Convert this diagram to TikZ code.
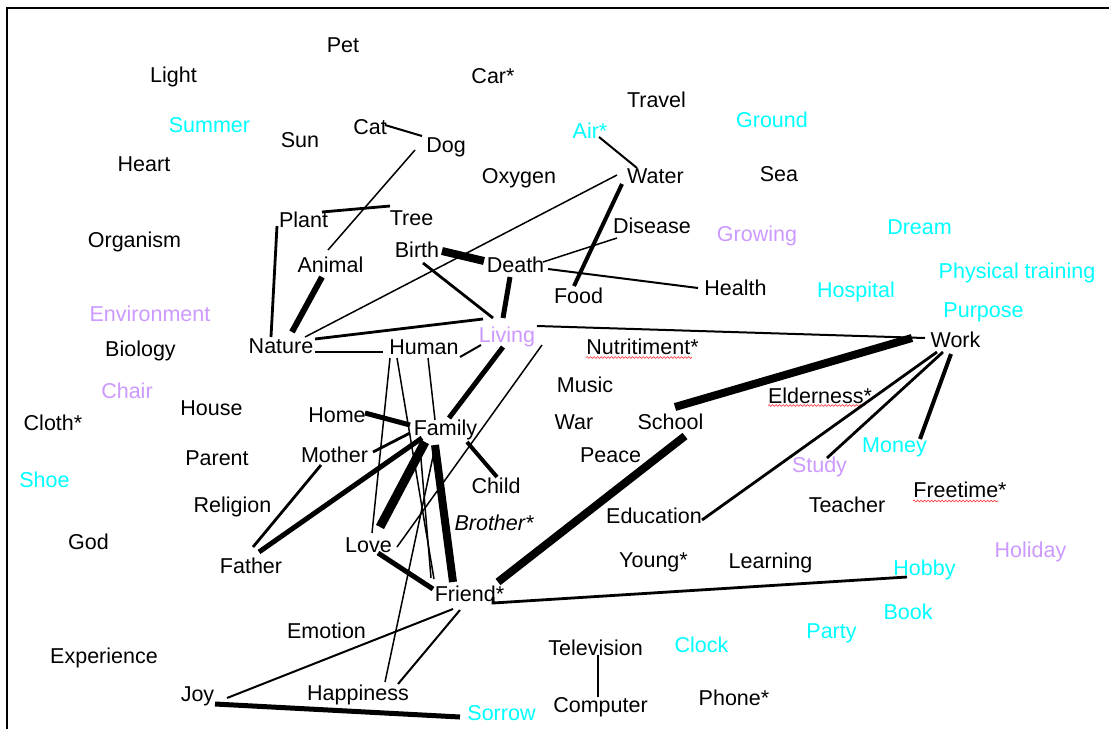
\documentclass[tikz,border=0pt]{standalone}
\usepackage{fontspec}
\setmainfont{Liberation Sans}
\usetikzlibrary{decorations.pathmorphing}
\definecolor{cyanw}{RGB}{0,255,255}
\definecolor{violw}{RGB}{204,153,255}
\tikzset{
  w/.style={anchor=base, inner sep=0pt, outer sep=0pt, font=\fontsize{21.5}{24}\selectfont},
  cw/.style={w, text=cyanw},
  vw/.style={w, text=violw},
  l1/.style={line width=1.5pt},
  l2/.style={line width=2pt},
  l3/.style={line width=2.8pt},
  l4/.style={line width=4pt},
  l5/.style={line width=5pt},
  l6/.style={line width=6pt},
  l8/.style={line width=8pt},
  l9/.style={line width=9pt},
  spell/.style={draw=red!85!white, line width=0.6pt,
    decorate, decoration={snake, segment length=3.5pt, amplitude=0.9pt}}
}
\newcommand{\at}[2]{([shift={(#1)}]#2.base)}
\begin{document}
\begin{tikzpicture}[x=1pt,y=-1pt]
\useasboundingbox (0,0) rectangle (1109,729);
\fill[white] (0,0) rectangle (1109,729);
% frame
\draw[line width=2pt] (7,729) -- (7,7.5) -- (1109,7.5);

% words
\node[w]  (pet)        at (343,52)    {Pet};
\node[w]  (light)      at (173.5,82)  {Light};
\node[w]  (car)        at (493,83)    {Car*};
\node[w]  (travel)     at (656.5,107) {Travel};
\node[cw] (summer)     at (209.5,132) {Summer};
\node[w]  (sun)        at (300,147)   {Sun};
\node[w]  (cat)        at (370,134)   {Cat};
\node[w]  (dog)        at (446,152)   {Dog};
\node[cw] (air)        at (590,138)   {Air*};
\node[cw] (ground)     at (772,127)   {Ground};
\node[w]  (heart)      at (144,171)   {Heart};
\node[w]  (oxygen)     at (519,183)   {Oxygen};
\node[w]  (water)      at (655.5,183) {Water};
\node[w]  (sea)        at (779,181)   {Sea};
\node[w]  (plant)      at (303.5,227) {Plant};
\node[w]  (tree)       at (411.5,225) {Tree};
\node[w]  (disease)    at (652,233)   {Disease};
\node[vw] (growing)    at (757,241)   {Growing};
\node[cw] (dream)      at (919.5,234) {Dream};
\node[w]  (organism)   at (134.5,247) {Organism};
\node[w]  (birth)      at (417,257)   {Birth};
\node[w]  (animal)     at (330.5,272) {Animal};
\node[w]  (death)      at (515.5,272) {Death};
\node[cw] (physical)   at (1017,278)  {Physical training};
\node[w]  (food)       at (578.5,303) {Food};
\node[w]  (health)     at (735.5,295) {Health};
\node[cw] (hospital)   at (856,297)   {Hospital};
\node[cw] (purpose)    at (983.5,317) {Purpose};
\node[vw] (environment) at (150,321)  {Environment};
\node[w]  (biology)    at (140.5,356) {Biology};
\node[w]  (nature)     at (281,353)   {Nature};
\node[w]  (human)      at (424,354)   {Human};
\node[vw] (living)     at (507,342)   {Living};
\node[w]  (nutri)      at (642.5,354) {Nutritiment*};
\node[w]  (work)       at (955.5,347) {Work};
\node[vw] (chair)      at (127,398)   {Chair};
\node[w]  (music)      at (585,392)   {Music};
\node[w]  (house)      at (211.5,415) {House};
\node[w]  (home)       at (337,422)   {Home};
\node[w]  (elder)      at (820,403)   {Elderness*};
\node[w]  (cloth)      at (53,430)    {Cloth*};
\node[w]  (family)     at (445.5,435) {Family};
\node[w]  (war)        at (574,429)   {War};
\node[w]  (school)     at (670.5,429) {School};
\node[cw] (money)      at (894.5,452) {Money};
\node[w]  (parent)     at (217,465)   {Parent};
\node[w]  (mother)     at (334.5,462) {Mother};
\node[w]  (peace)      at (610.5,462) {Peace};
\node[vw] (study)      at (819.5,472) {Study};
\node[cw] (shoe)       at (44.5,487)  {Shoe};
\node[w]  (child)      at (496,493)   {Child};
\node[w]  (freetime)   at (960,497)   {Freetime*};
\node[w]  (religion)   at (232.5,512) {Religion};
\node[w]  (teacher)    at (847,512)   {Teacher};
\node[w]  (brother)    at (494,530)   {\itshape Brother*};
\node[w]  (education)  at (654,523)   {Education};
\node[w]  (god)        at (88.5,549)  {God};
\node[w]  (love)       at (368.5,552) {Love};
\node[vw] (holiday)    at (1030.5,557) {Holiday};
\node[w]  (father)     at (251,573)   {Father};
\node[w]  (young)      at (653.5,567) {Young*};
\node[w]  (learning)   at (770.5,568) {Learning};
\node[cw] (hobby)      at (924.5,575) {Hobby};
\node[w]  (friend)     at (469.5,601) {Friend*};
\node[cw] (book)       at (908,619)   {Book};
\node[w]  (emotion)    at (326.5,638) {Emotion};
\node[cw] (party)      at (831.5,638) {Party};
\node[w]  (experience) at (104,663)   {Experience};
\node[w]  (television) at (595.5,655) {Television};
\node[cw] (clock)      at (701.5,652) {Clock};
\node[w]  (joy)        at (197.5,701) {Joy};
\node[w]  (happiness)  at (358,700)   {Happiness};
\node[w]  (phone)      at (734,705)   {Phone*};
\node[w]  (computer)   at (600.5,712) {Computer};
\node[cw] (sorrow)     at (501.5,720) {Sorrow};

% spell-check underlines
\draw[spell] \at{-56.5,3.5}{nutri} -- \at{49.5,3.5}{nutri};
\draw[spell] \at{-52,2.5}{elder} -- \at{45,2.5}{elder};
\draw[spell] \at{-47,4}{freetime} -- \at{38,4}{freetime};

% links
\draw[l2] \at{15,-9}{cat} -- \at{-24,-16}{dog};
\draw[l1] \at{-31,-2}{dog} -- \at{-2.5,-22}{animal};
\draw[l3] \at{18.5,-15}{plant} -- \at{-21.5,-19}{tree};
\draw[l3] \at{-26.5,-1}{plant} -- \at{-10,-16}{nature};
\draw[l6] \at{-8.5,5}{animal} -- \at{11,-21}{nature};
\draw[l1] \at{24,-16}{nature} -- \at{-38.5,-8}{water};
\draw[l3] \at{34,-14}{nature} -- \at{-24,-23}{living};
\draw[l3] \at{34,-1}{nature} -- \at{-41,-2}{human};
\draw[l8] \at{25,-6}{birth} -- \at{-31.5,-11}{death};
\draw[l3] \at{6,6}{birth} -- \at{-14,-24}{living};
\draw[l5] \at{-5.5,5}{death} -- \at{-4,-24}{living};
\draw[l1] \at{27.5,-10}{death} -- \at{-35,5}{disease};
\draw[l2] \at{32.5,-3}{death} -- \at{-37.5,-7}{health};
\draw[l4] \at{-33.5,1}{water} -- \at{-4.5,-17}{food};
\draw[l2] \at{9,-1}{air} -- \at{-18.5,-15}{water};
\draw[l2] \at{30,-16}{living} -- \at{-30.5,-9}{work};
\draw[l8] \at{4.5,-22}{school} -- \at{-43.5,-9}{work};
\draw[l3] \at{-18.5,5}{work} -- \at{48,-3}{education};
\draw[l3] \at{-12.5,5}{work} -- \at{7.5,-14}{study};
\draw[l4] \at{-4.5,7}{work} -- \at{25.5,-13}{money};
\draw[l2] \at{36,3}{human} -- \at{-26,3}{living};
\draw[l5] \at{-4,5}{living} -- \at{3.5,-17}{family};
\draw[l1] \at{35,3}{living} -- \at{28.5,-5}{love};
\draw[l1] \at{-34,4}{human} -- \at{3.5,-19}{love};
\draw[l1] \at{-27,4}{human} -- \at{-35.5,-22}{friend};
\draw[l1] \at{4,4}{human} -- \at{-10.5,-15}{family};
\draw[l5] \at{28,-9}{home} -- \at{-35.5,-10}{family};
\draw[l3] \at{38.5,-10}{mother} -- \at{-35.5,-2}{family};
\draw[l3] \at{-13.5,3}{mother} -- \at{2,-26}{father};
\draw[l5] \at{-23.5,3}{family} -- \at{8,-21}{father};
\draw[l9] \at{-20.5,7}{family} -- \at{11.5,-25}{love};
\draw[l8] \at{-10.5,10}{family} -- \at{-16.5,-19}{friend};
\draw[l1] \at{-25.5,12}{family} -- \at{-38.5,-23}{friend};
\draw[l4] \at{21.5,7}{family} -- \at{1,-16}{child};
\draw[l1] \at{-10.5,12}{family} -- \at{27,-18}{happiness};
\draw[l5] \at{9.5,1}{love} -- \at{-36.5,-12}{friend};
\draw[l8] \at{28.5,-19}{friend} -- \at{14.5,7}{school};
\draw[l3] \at{23.5,-4}{friend} -- \at{23.5,2}{friend} -- \at{-17.5,2}{hobby};
\draw[l2] \at{40,-16}{happiness} -- \at{-9.5,9}{friend};
\draw[l2] \at{29.5,-3}{joy} -- \at{-16.5,8}{friend};
\draw[l5] \at{17.5,3}{joy} -- \at{-41.5,-3}{sorrow};
\draw[l1] \at{2.5,0}{television} -- \at{-2.5,-15}{computer};
\end{tikzpicture}
\end{document}
